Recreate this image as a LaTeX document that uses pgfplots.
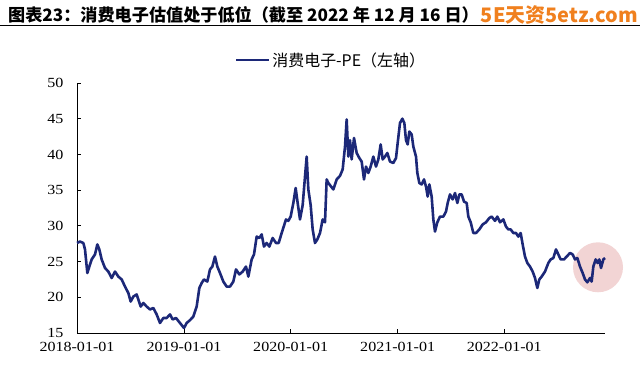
\documentclass[border=0pt]{standalone}
\usepackage{fontspec}
\usepackage{pgfplots}
\usepackage{pgfplotstable}
\pgfplotsset{compat=1.18}
\newfontfamily\cjk{Noto Sans CJK SC}
\newfontfamily\tickfont[FakeStretch=1.15]{Liberation Serif}
\definecolor{navy}{RGB}{28,40,120}
\definecolor{wm}{RGB}{240,128,30}
\definecolor{pinkc}{RGB}{240,205,205}
\pgfplotstableread{
x y
231 27.6
240 27.8
250 27.6
255 26.7
262 23.4
268 24.3
275 25.3
285 26.0
292 27.4
298 26.7
305 25.3
315 24.1
325 23.6
335 22.7
345 23.6
355 22.9
365 22.5
375 21.5
385 20.6
392 19.4
400 20.1
410 20.4
415 19.7
422 18.7
430 19.2
440 18.7
450 18.3
460 18.5
470 17.6
480 16.4
490 17.1
500 17.1
510 17.6
518 16.9
528 17.1
540 16.4
552 15.7
560 16.4
570 16.8
580 17.3
590 18.7
598 21.3
605 22.0
612 22.5
622 22.2
630 23.9
637 24.3
645 25.7
652 24.3
660 23.4
670 22.2
680 21.5
690 21.5
700 22.2
708 23.9
718 23.2
728 23.6
738 24.3
745 22.9
755 25.3
762 26.0
770 28.5
778 28.3
785 28.8
792 27.1
800 27.6
808 27.1
818 28.3
828 27.6
836 27.6
845 29.0
858 30.9
865 30.7
872 31.3
880 33.2
887 35.3
893 33.2
900 30.9
908 32.9
915 36.9
920 39.7
925 35.1
932 32.9
938 29.5
945 27.6
952 28.1
960 29.0
968 30.9
975 30.5
980 36.5
985 36.0
1000 35.1
1010 36.5
1020 37.0
1028 37.9
1035 41.1
1040 44.9
1045 39.7
1050 42.0
1055 39.3
1062 42.3
1070 40.2
1078 39.5
1085 39.0
1092 36.5
1098 38.3
1105 37.4
1112 38.3
1120 39.7
1128 38.3
1135 39.3
1142 41.4
1148 39.3
1155 39.7
1162 40.2
1170 39.0
1180 38.8
1188 39.5
1193 41.6
1200 44.4
1207 45.0
1213 44.4
1218 42.0
1223 41.4
1228 43.2
1235 42.8
1240 41.1
1248 39.7
1252 37.4
1258 36.0
1265 35.8
1272 36.5
1278 35.5
1283 34.1
1288 35.8
1295 34.1
1300 30.9
1305 29.2
1312 30.5
1320 31.3
1330 31.3
1338 32.0
1343 33.2
1350 34.4
1358 33.7
1365 34.6
1372 33.2
1378 34.4
1385 34.4
1392 33.4
1400 33.2
1405 31.3
1412 30.5
1420 29.0
1428 29.0
1438 29.5
1448 30.2
1458 30.5
1468 31.1
1475 31.3
1485 30.7
1492 31.3
1500 30.5
1510 30.9
1518 29.9
1525 29.5
1532 29.5
1540 29.0
1548 29.0
1555 28.5
1562 29.0
1568 27.4
1575 25.7
1582 24.8
1590 24.3
1598 23.6
1605 22.7
1612 21.3
1618 22.5
1625 22.9
1635 23.6
1645 24.8
1652 25.3
1660 25.5
1668 26.7
1675 26.0
1682 25.3
1692 25.3
1700 25.7
1710 26.2
1718 26.0
1725 25.3
1732 25.5
1740 24.3
1748 23.4
1755 22.5
1762 22.1
1770 22.7
1775 22.2
1780 24.3
1787 25.3
1793 24.8
1798 25.3
1803 24.1
1810 25.3
1815 25.5
}\pedata
\begin{document}
\begin{tikzpicture}
\path[use as bounding box] (0,0) rectangle (640bp,369bp);
\node[anchor=west, inner sep=0pt] at (8bp,354bp) {\cjk\bfseries\fontsize{17.2}{18}\selectfont 图表23：消费电子估值处于低位（截至 2022 年 12 月 16 日）};
\node[anchor=east, inner sep=0pt, text=wm] at (638bp,354bp) {\cjk\bfseries\fontsize{20}{22}\selectfont 5E天资5etz.com};
\draw[line width=1bp, black] (0,343.5bp) -- (640bp,343.5bp);
\begin{axis}[
  at={(77bp,36bp)}, anchor=south west,
  scale only axis, width=528bp, height=250bp,
  xmin=231, xmax=1815, ymin=15, ymax=50,
  axis x line*=bottom, axis y line*=left,
  axis line style={line width=0.9bp, black},
  xtick={231,552,872,1193,1513},
  xticklabels={2018-01-01,2019-01-01,2020-01-01,2021-01-01,2022-01-01},
  ytick={15,20,25,30,35,40,45,50},
  tick style={black, line width=0.9bp},
  tick align=inside, major tick length=4bp,
  tick label style={font=\tickfont\fontsize{14}{14}\selectfont},
  /pgf/number format/assume math mode=true,
  xticklabel style={yshift=-6bp},
  yticklabel style={xshift=-10bp},
  legend style={draw=none, fill=none, at={(axis description cs:0.481,1.092)}, anchor=center,
    font=\cjk\fontsize{16}{16}\selectfont, inner sep=0pt},
  legend image code/.code={\draw[navy, line width=2.5bp] (0bp,0bp) -- (33bp,0bp);},
  clip=false,
]
\fill[pinkc, opacity=0.85] (axis cs:1794,24.2) circle[radius=25bp];
\addplot[navy, line width=2.6bp, line join=round] table[x=x,y=y] {\pedata};
\addlegendentry{消费电子-PE（左轴）}
\end{axis}
\end{tikzpicture}
\end{document}
